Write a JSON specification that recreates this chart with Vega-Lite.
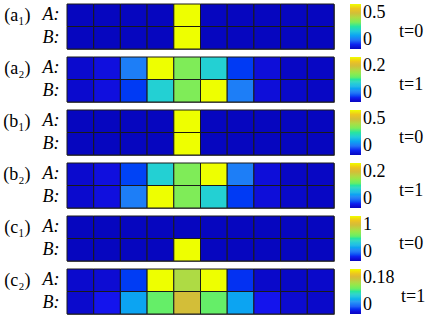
{
  "$schema": "https://vega.github.io/schema/vega-lite/v6.json",
  "padding": {"left": 2, "top": 3, "right": 0, "bottom": 0},
  "spacing": 8,
  "bounds": "flush",
  "data": {"values": [
    {"panel":"a1","row":"A","col":1,"value":0},{"panel":"a1","row":"A","col":2,"value":0},{"panel":"a1","row":"A","col":3,"value":0},{"panel":"a1","row":"A","col":4,"value":0},{"panel":"a1","row":"A","col":5,"value":0.5},{"panel":"a1","row":"A","col":6,"value":0},{"panel":"a1","row":"A","col":7,"value":0},{"panel":"a1","row":"A","col":8,"value":0},{"panel":"a1","row":"A","col":9,"value":0},{"panel":"a1","row":"A","col":10,"value":0},
    {"panel":"a1","row":"B","col":1,"value":0},{"panel":"a1","row":"B","col":2,"value":0},{"panel":"a1","row":"B","col":3,"value":0},{"panel":"a1","row":"B","col":4,"value":0},{"panel":"a1","row":"B","col":5,"value":0.5},{"panel":"a1","row":"B","col":6,"value":0},{"panel":"a1","row":"B","col":7,"value":0},{"panel":"a1","row":"B","col":8,"value":0},{"panel":"a1","row":"B","col":9,"value":0},{"panel":"a1","row":"B","col":10,"value":0},
    {"panel":"a2","row":"A","col":1,"value":0.006},{"panel":"a2","row":"A","col":2,"value":0.012},{"panel":"a2","row":"A","col":3,"value":0.044},{"panel":"a2","row":"A","col":4,"value":0.2},{"panel":"a2","row":"A","col":5,"value":0.12},{"panel":"a2","row":"A","col":6,"value":0.084},{"panel":"a2","row":"A","col":7,"value":0.024},{"panel":"a2","row":"A","col":8,"value":0.01},{"panel":"a2","row":"A","col":9,"value":0.002},{"panel":"a2","row":"A","col":10,"value":0.002},
    {"panel":"a2","row":"B","col":1,"value":0.006},{"panel":"a2","row":"B","col":2,"value":0.012},{"panel":"a2","row":"B","col":3,"value":0.024},{"panel":"a2","row":"B","col":4,"value":0.084},{"panel":"a2","row":"B","col":5,"value":0.12},{"panel":"a2","row":"B","col":6,"value":0.2},{"panel":"a2","row":"B","col":7,"value":0.044},{"panel":"a2","row":"B","col":8,"value":0.01},{"panel":"a2","row":"B","col":9,"value":0.004},{"panel":"a2","row":"B","col":10,"value":0.002},
    {"panel":"b1","row":"A","col":1,"value":0},{"panel":"b1","row":"A","col":2,"value":0},{"panel":"b1","row":"A","col":3,"value":0},{"panel":"b1","row":"A","col":4,"value":0},{"panel":"b1","row":"A","col":5,"value":0.5},{"panel":"b1","row":"A","col":6,"value":0},{"panel":"b1","row":"A","col":7,"value":0},{"panel":"b1","row":"A","col":8,"value":0},{"panel":"b1","row":"A","col":9,"value":0},{"panel":"b1","row":"A","col":10,"value":0},
    {"panel":"b1","row":"B","col":1,"value":0},{"panel":"b1","row":"B","col":2,"value":0},{"panel":"b1","row":"B","col":3,"value":0},{"panel":"b1","row":"B","col":4,"value":0},{"panel":"b1","row":"B","col":5,"value":0.5},{"panel":"b1","row":"B","col":6,"value":0},{"panel":"b1","row":"B","col":7,"value":0},{"panel":"b1","row":"B","col":8,"value":0},{"panel":"b1","row":"B","col":9,"value":0},{"panel":"b1","row":"B","col":10,"value":0},
    {"panel":"b2","row":"A","col":1,"value":0.006},{"panel":"b2","row":"A","col":2,"value":0.012},{"panel":"b2","row":"A","col":3,"value":0.026},{"panel":"b2","row":"A","col":4,"value":0.084},{"panel":"b2","row":"A","col":5,"value":0.12},{"panel":"b2","row":"A","col":6,"value":0.2},{"panel":"b2","row":"A","col":7,"value":0.044},{"panel":"b2","row":"A","col":8,"value":0.01},{"panel":"b2","row":"A","col":9,"value":0.002},{"panel":"b2","row":"A","col":10,"value":0.002},
    {"panel":"b2","row":"B","col":1,"value":0.006},{"panel":"b2","row":"B","col":2,"value":0.012},{"panel":"b2","row":"B","col":3,"value":0.044},{"panel":"b2","row":"B","col":4,"value":0.2},{"panel":"b2","row":"B","col":5,"value":0.12},{"panel":"b2","row":"B","col":6,"value":0.084},{"panel":"b2","row":"B","col":7,"value":0.024},{"panel":"b2","row":"B","col":8,"value":0.01},{"panel":"b2","row":"B","col":9,"value":0.004},{"panel":"b2","row":"B","col":10,"value":0.002},
    {"panel":"c1","row":"A","col":1,"value":0},{"panel":"c1","row":"A","col":2,"value":0},{"panel":"c1","row":"A","col":3,"value":0},{"panel":"c1","row":"A","col":4,"value":0},{"panel":"c1","row":"A","col":5,"value":0},{"panel":"c1","row":"A","col":6,"value":0},{"panel":"c1","row":"A","col":7,"value":0},{"panel":"c1","row":"A","col":8,"value":0},{"panel":"c1","row":"A","col":9,"value":0},{"panel":"c1","row":"A","col":10,"value":0},
    {"panel":"c1","row":"B","col":1,"value":0},{"panel":"c1","row":"B","col":2,"value":0},{"panel":"c1","row":"B","col":3,"value":0},{"panel":"c1","row":"B","col":4,"value":0},{"panel":"c1","row":"B","col":5,"value":1},{"panel":"c1","row":"B","col":6,"value":0},{"panel":"c1","row":"B","col":7,"value":0},{"panel":"c1","row":"B","col":8,"value":0},{"panel":"c1","row":"B","col":9,"value":0},{"panel":"c1","row":"B","col":10,"value":0},
    {"panel":"c2","row":"A","col":1,"value":0.005},{"panel":"c2","row":"A","col":2,"value":0.007},{"panel":"c2","row":"A","col":3,"value":0.022},{"panel":"c2","row":"A","col":4,"value":0.18},{"panel":"c2","row":"A","col":5,"value":0.126},{"panel":"c2","row":"A","col":6,"value":0.18},{"panel":"c2","row":"A","col":7,"value":0.02},{"panel":"c2","row":"A","col":8,"value":0.004},{"panel":"c2","row":"A","col":9,"value":0.002},{"panel":"c2","row":"A","col":10,"value":0.004},
    {"panel":"c2","row":"B","col":1,"value":0.005},{"panel":"c2","row":"B","col":2,"value":0.016},{"panel":"c2","row":"B","col":3,"value":0.054},{"panel":"c2","row":"B","col":4,"value":0.099},{"panel":"c2","row":"B","col":5,"value":0.144},{"panel":"c2","row":"B","col":6,"value":0.099},{"panel":"c2","row":"B","col":7,"value":0.054},{"panel":"c2","row":"B","col":8,"value":0.016},{"panel":"c2","row":"B","col":9,"value":0.006},{"panel":"c2","row":"B","col":10,"value":0.004}
  ]},
  "resolve": {"scale": {"color": "independent"}, "legend": {"color": "independent"}},
  "vconcat": [
    {"width": 267, "height": 45, "transform": [{"filter": "datum.panel == 'a1'"}],
     "mark": {"type": "rect", "stroke": "#1a1a1a", "strokeWidth": 1},
     "encoding": {
       "x": {"field": "col", "type": "ordinal", "axis": null},
       "y": {"field": "row", "type": "nominal", "axis": {"title": "(a₁)", "labelExpr": "datum.value + ':'"}},
       "color": {"field": "value", "type": "quantitative", "scale": {"domain": [0, 0.5], "range": ["#0606bf", "#1414ee", "#2a6af6", "#3296f4", "#36c0e2", "#3ad8c4", "#62ee6a", "#90ea4c", "#b8d444", "#d8b838", "#f0c81a", "#eeff00"]},
         "legend": {"title": "t=0", "values": [0, 0.5], "labelExpr": "'' + datum.value", "titlePadding": 13, "encode": {"title": {"update": {"angle": {"value": 0}, "dy": {"value": 5}}}}}}
     }},
    {"width": 267, "height": 45, "transform": [{"filter": "datum.panel == 'a2'"}],
     "mark": {"type": "rect", "stroke": "#1a1a1a", "strokeWidth": 1},
     "encoding": {
       "x": {"field": "col", "type": "ordinal", "axis": null},
       "y": {"field": "row", "type": "nominal", "axis": {"title": "(a₂)", "labelExpr": "datum.value + ':'"}},
       "color": {"field": "value", "type": "quantitative", "scale": {"domain": [0, 0.2], "range": ["#0606bf", "#1414ee", "#2a6af6", "#3296f4", "#36c0e2", "#3ad8c4", "#62ee6a", "#90ea4c", "#b8d444", "#d8b838", "#f0c81a", "#eeff00"]},
         "legend": {"title": "t=1", "values": [0, 0.2], "labelExpr": "'' + datum.value", "titlePadding": 13, "encode": {"title": {"update": {"angle": {"value": 0}, "dy": {"value": 5}}}}}}
     }},
    {"width": 267, "height": 45, "transform": [{"filter": "datum.panel == 'b1'"}],
     "mark": {"type": "rect", "stroke": "#1a1a1a", "strokeWidth": 1},
     "encoding": {
       "x": {"field": "col", "type": "ordinal", "axis": null},
       "y": {"field": "row", "type": "nominal", "axis": {"title": "(b₁)", "labelExpr": "datum.value + ':'"}},
       "color": {"field": "value", "type": "quantitative", "scale": {"domain": [0, 0.5], "range": ["#0606bf", "#1414ee", "#2a6af6", "#3296f4", "#36c0e2", "#3ad8c4", "#62ee6a", "#90ea4c", "#b8d444", "#d8b838", "#f0c81a", "#eeff00"]},
         "legend": {"title": "t=0", "values": [0, 0.5], "labelExpr": "'' + datum.value", "titlePadding": 13, "encode": {"title": {"update": {"angle": {"value": 0}, "dy": {"value": 5}}}}}}
     }},
    {"width": 267, "height": 45, "transform": [{"filter": "datum.panel == 'b2'"}],
     "mark": {"type": "rect", "stroke": "#1a1a1a", "strokeWidth": 1},
     "encoding": {
       "x": {"field": "col", "type": "ordinal", "axis": null},
       "y": {"field": "row", "type": "nominal", "axis": {"title": "(b₂)", "labelExpr": "datum.value + ':'"}},
       "color": {"field": "value", "type": "quantitative", "scale": {"domain": [0, 0.2], "range": ["#0606bf", "#1414ee", "#2a6af6", "#3296f4", "#36c0e2", "#3ad8c4", "#62ee6a", "#90ea4c", "#b8d444", "#d8b838", "#f0c81a", "#eeff00"]},
         "legend": {"title": "t=1", "values": [0, 0.2], "labelExpr": "'' + datum.value", "titlePadding": 13, "encode": {"title": {"update": {"angle": {"value": 0}, "dy": {"value": 5}}}}}}
     }},
    {"width": 267, "height": 45, "transform": [{"filter": "datum.panel == 'c1'"}],
     "mark": {"type": "rect", "stroke": "#1a1a1a", "strokeWidth": 1},
     "encoding": {
       "x": {"field": "col", "type": "ordinal", "axis": null},
       "y": {"field": "row", "type": "nominal", "axis": {"title": "(c₁)", "labelExpr": "datum.value + ':'"}},
       "color": {"field": "value", "type": "quantitative", "scale": {"domain": [0, 1], "range": ["#0606bf", "#1414ee", "#2a6af6", "#3296f4", "#36c0e2", "#3ad8c4", "#62ee6a", "#90ea4c", "#b8d444", "#d8b838", "#f0c81a", "#eeff00"]},
         "legend": {"title": "t=0", "values": [0, 1], "labelExpr": "'' + datum.value", "titlePadding": 27, "encode": {"title": {"update": {"angle": {"value": 0}, "dy": {"value": 5}}}}}}
     }},
    {"width": 267, "height": 45, "transform": [{"filter": "datum.panel == 'c2'"}],
     "mark": {"type": "rect", "stroke": "#1a1a1a", "strokeWidth": 1},
     "encoding": {
       "x": {"field": "col", "type": "ordinal", "axis": null},
       "y": {"field": "row", "type": "nominal", "axis": {"title": "(c₂)", "labelExpr": "datum.value + ':'"}},
       "color": {"field": "value", "type": "quantitative", "scale": {"domain": [0, 0.18], "range": ["#0606bf", "#1414ee", "#2a6af6", "#3296f4", "#36c0e2", "#3ad8c4", "#62ee6a", "#90ea4c", "#b8d444", "#d8b838", "#f0c81a", "#eeff00"]},
         "legend": {"title": "t=1", "values": [0, 0.18], "labelExpr": "'' + datum.value", "titlePadding": 6, "encode": {"title": {"update": {"angle": {"value": 0}, "dy": {"value": 5}}}}}}
     }}
  ],
  "config": {
    "view": {"stroke": "#666666", "strokeWidth": 1},
    "axisY": {
      "labelFont": "Liberation Serif", "labelFontSize": 18, "labelFontStyle": "italic", "labelColor": "#000",
      "labelPadding": 8, "domain": false, "ticks": false,
      "titleFont": "Liberation Serif", "titleFontSize": 18, "titleFontWeight": "normal", "titleColor": "#000",
      "titleAngle": 0, "titleAlign": "right", "titleBaseline": "middle", "titleY": 11, "titlePadding": 12
    },
    "legend": {
      "gradientLength": 45, "gradientThickness": 11, "gradientStrokeWidth": 0,
      "labelFont": "Liberation Serif", "labelFontSize": 18, "labelColor": "#000", "labelOffset": 4,
      "titleFont": "Liberation Serif", "titleFontSize": 18, "titleFontWeight": "normal", "titleColor": "#000",
      "titleOrient": "right", "titleAnchor": "middle", "titleBaseline": "middle", "titleAlign": "left",
      "offset": 16, "padding": 0
    }
  }
}
